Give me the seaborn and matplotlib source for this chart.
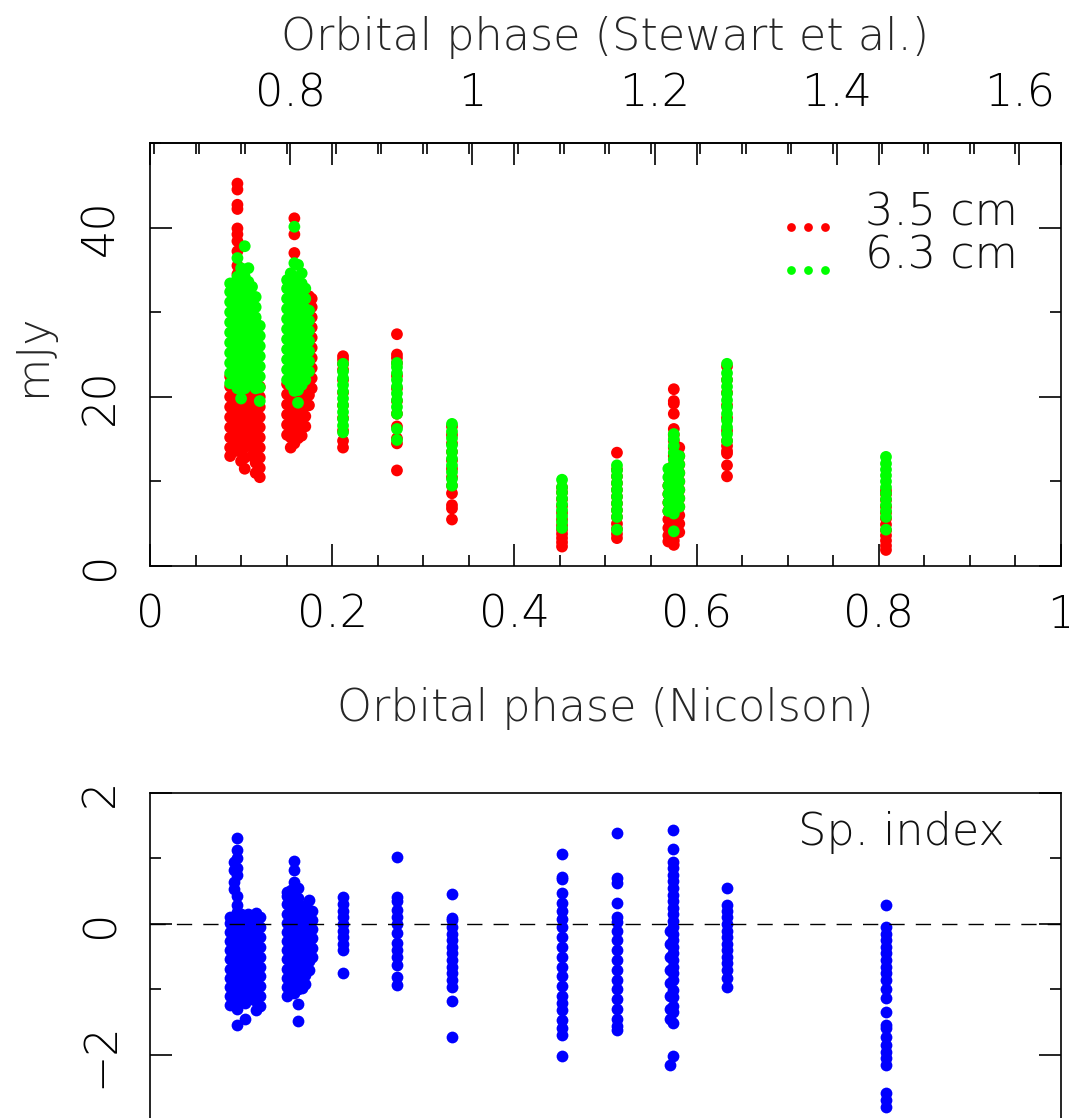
import numpy as np
import pandas as pd
import matplotlib
matplotlib.use('Agg')
import matplotlib.pyplot as plt
from matplotlib import font_manager
from matplotlib.lines import Line2D
from matplotlib.ticker import MultipleLocator, FuncFormatter
import seaborn as sns

# Stewart et al. phase = Nicolson phase + offset
phase_offset = 0.646

# observing runs (Nicolson phase), one entry per column of points
run_phase = [0.088, 0.092, 0.096, 0.100, 0.104, 0.108, 0.112, 0.116, 0.1205,
             0.1505, 0.1545, 0.1585, 0.1625, 0.1665, 0.1705, 0.1745, 0.1775,
             0.2119, 0.2711, 0.3315, 0.4523, 0.5126,
             0.569, 0.575, 0.581, 0.6334, 0.8079]

# 3.5 cm flux density (mJy) for each run
flux_35 = [
    [13.0, 14.0, 15.2, 16.4, 17.6, 18.8, 20.0, 21.2, 22.4],
    [14.2, 15.4, 16.6, 17.8, 19.0, 20.2, 21.4],
    [13.6, 14.8, 16.0, 17.2, 18.4, 19.6, 20.8, 22.0, 34.5, 35.5, 37.2, 38.4, 39.2,
     39.9, 42.2, 42.7, 44.5, 45.2],
    [12.4, 13.6, 14.8, 16.0, 17.2, 18.4, 19.6, 20.8, 22.0],
    [11.5, 12.8, 14.0, 15.2, 16.4, 17.6, 18.8, 20.0, 21.2],
    [14.4, 15.6, 16.8, 18.0, 19.2, 20.4, 21.6],
    [13.0, 14.2, 15.4, 16.6, 17.8, 19.0, 20.2, 21.4],
    [11.0, 12.2, 13.4, 14.6, 15.8, 17.0, 18.2, 19.4, 20.6],
    [10.5, 11.6, 12.8, 14.0, 15.2, 16.4, 17.6, 18.8, 20.0, 21.2],
    [15.5, 16.7, 17.9, 19.1, 20.3, 21.5],
    [14.0, 15.2, 16.4, 17.6, 18.8, 20.0, 21.2],
    [14.5, 15.7, 16.9, 18.1, 19.3, 20.5, 37.0, 39.2, 41.1],
    [15.1, 16.3, 17.5, 18.7, 19.9, 21.1],
    [15.4, 16.6, 17.8, 19.0, 20.2],
    [16.5, 17.7, 18.9, 20.1, 21.3],
    [19.0, 20.2, 21.4, 30.5, 31.9],
    [21.0, 22.2, 23.4, 24.6, 25.8, 27.0, 28.2, 29.4, 30.6, 31.6],
    [14.0, 14.8, 16.0, 17.5, 19.0, 20.5, 22.0, 23.2, 23.9, 24.4, 24.8],
    [11.3, 14.5, 15.1, 16.5, 18.0, 19.5, 21.0, 22.5, 24.0, 24.6, 25.0, 27.4],
    [5.5, 6.8, 7.2, 8.6, 9.5, 10.5, 11.5, 12.5, 13.5, 14.5, 15.5, 16.5],
    [2.3, 2.8, 3.3, 3.8, 4.3, 4.8, 5.5, 6.3, 7.1, 7.9, 8.7, 9.3],
    [3.3, 3.8, 4.4, 5.0, 5.8, 6.6, 7.4, 8.2, 9.0, 9.8, 10.6, 11.4, 13.4],
    [2.9, 3.6, 4.5, 5.5, 6.5, 7.5, 8.5, 9.5],
    [2.5, 3.0, 3.5, 4.2, 5.0, 5.8, 6.6, 7.4, 8.2, 9.0, 10.0, 11.0, 12.0, 13.0, 14.0,
     14.8, 15.5, 16.2, 18.0, 19.2, 19.5, 20.9],
    [4.0, 5.0, 6.0, 7.0, 8.0, 9.0, 10.0, 11.0, 12.0, 13.0, 14.0],
    [10.6, 11.9, 13.3, 13.6, 14.2, 14.8, 16.0, 17.5, 19.0, 20.5, 22.0, 23.6],
    [1.9, 2.4, 3.0, 3.6, 4.2, 4.9, 5.6, 6.3, 7.0, 7.8, 8.5, 8.9],
]

# 6.3 cm flux density (mJy) for each run
flux_63 = [
    [21.6, 22.8, 24.0, 25.2, 26.4, 27.6, 28.8, 30.0, 31.2, 32.4, 33.4],
    [22.2, 23.4, 24.6, 25.8, 27.0, 28.2, 29.4, 30.6, 31.8, 33.0],
    [21.0, 22.2, 23.4, 24.6, 25.8, 27.0, 28.2, 29.4, 30.6, 31.8, 33.0, 34.2, 36.4],
    [19.8, 21.6, 22.8, 24.0, 25.2, 26.4, 27.6, 28.8, 30.0, 31.2, 32.4, 33.6, 35.2],
    [21.0, 22.2, 23.4, 24.6, 25.8, 27.0, 28.2, 29.4, 30.6, 31.8, 33.0, 34.2, 37.8],
    [21.6, 22.8, 24.0, 25.2, 26.4, 27.6, 28.8, 30.0, 31.2, 32.4, 33.6, 35.2],
    [22.2, 23.4, 24.6, 25.8, 27.0, 28.2, 29.4, 30.6, 31.8, 33.0],
    [21.0, 22.2, 23.4, 24.6, 25.8, 27.0, 28.2, 29.4, 30.6, 31.8],
    [19.5, 21.1, 22.4, 23.6, 24.8, 26.0, 27.2, 28.4],
    [22.0, 23.2, 24.4, 25.6, 26.8, 28.0, 29.2, 30.4, 31.6, 32.8, 33.8],
    [21.4, 22.6, 23.8, 25.0, 26.2, 27.4, 28.6, 29.8, 31.0, 32.2, 33.4, 34.6],
    [20.7, 22.0, 23.2, 24.4, 25.6, 26.8, 28.0, 29.2, 30.4, 31.6, 32.8, 34.0, 35.8, 40.1],
    [19.3, 20.8, 22.0, 23.2, 24.4, 25.6, 26.8, 28.0, 29.2, 30.4, 31.6, 32.8, 34.0, 35.6],
    [21.4, 22.6, 23.8, 25.0, 26.2, 27.4, 28.6, 29.8, 31.0, 32.2, 33.4, 34.6],
    [22.0, 23.2, 24.4, 25.6, 26.8, 28.0, 29.2, 30.4, 31.6, 32.8],
    [23.0, 24.2, 25.4, 26.6, 27.8, 29.0, 30.2],
    [],
    [15.8, 16.6, 17.4, 18.2, 19.0, 19.8, 20.6, 21.4, 22.2, 23.0, 23.9],
    [14.9, 16.2, 18.0, 18.8, 19.6, 20.4, 21.2, 22.0, 22.8, 23.5, 24.0],
    [9.5, 10.3, 11.1, 11.9, 12.7, 13.5, 14.3, 15.1, 15.9, 16.8],
    [4.5, 5.2, 5.9, 6.6, 7.3, 8.0, 8.7, 9.3, 10.2],
    [4.3, 5.8, 6.6, 7.4, 8.2, 9.0, 9.8, 10.6, 11.3, 11.9],
    [6.5, 7.5, 8.5, 9.5, 10.5, 11.5],
    [4.1, 6.2, 7.0, 7.8, 8.6, 9.4, 10.2, 11.0, 11.8, 12.6, 13.4, 14.2, 15.0, 15.6],
    [7.0, 8.0, 9.0, 10.0, 11.0, 12.0, 13.0],
    [14.8, 15.6, 16.4, 17.2, 18.0, 18.8, 19.6, 20.4, 21.2, 22.0, 22.8, 23.9],
    [4.3, 5.8, 6.5, 7.2, 7.9, 8.6, 9.3, 10.0, 10.7, 11.4, 12.1, 12.9],
]

# spectral index, runs for the lower panel
index_phase = [0.088, 0.092, 0.096, 0.100, 0.104, 0.108, 0.112, 0.116, 0.1205,
               0.1505, 0.1545, 0.1585, 0.1625, 0.1665, 0.1705, 0.1745, 0.1775,
               0.2119, 0.2711, 0.3315, 0.4523, 0.5126,
               0.5705, 0.5745, 0.6334, 0.8079]
sp_index = [
    [-1.24, -1.1, -0.96, -0.82, -0.68, -0.54, -0.4, -0.26, -0.12, 0.02, 0.1],
    [-1.05, -0.91, -0.77, -0.63, -0.49, -0.35, -0.21, -0.07, 0.07, 0.53, 0.64, 0.82, 0.95],
    [-1.54, -1.3, -1.16, -1.02, -0.88, -0.74, -0.6, -0.46, -0.32, -0.18, -0.04, 0.1,
     0.18, 0.29, 0.42, 0.75, 0.85, 1.0, 1.13, 1.31],
    [-1.1, -0.96, -0.82, -0.68, -0.54, -0.4, -0.26, -0.12, 0.02, 0.15],
    [-1.45, -1.2, -1.06, -0.92, -0.78, -0.64, -0.5, -0.36, -0.22, -0.08, 0.06, 0.12],
    [-1.05, -0.91, -0.77, -0.63, -0.49, -0.35, -0.21, -0.07, 0.07, 0.15],
    [-1.15, -1.01, -0.87, -0.73, -0.59, -0.45, -0.31, -0.17, -0.03, 0.11],
    [-1.31, -1.17, -1.03, -0.89, -0.75, -0.61, -0.47, -0.33, -0.19, -0.05, 0.09, 0.17],
    [-1.25, -1.1, -0.95, -0.8, -0.65, -0.5, -0.35, -0.2, -0.05, 0.1],
    [-1.1, -0.96, -0.82, -0.68, -0.54, -0.4, -0.26, -0.12, 0.02, 0.16, 0.3, 0.42, 0.49],
    [-1.0, -0.86, -0.72, -0.58, -0.44, -0.3, -0.16, -0.02, 0.12, 0.26, 0.4, 0.52],
    [-1.05, -0.91, -0.77, -0.63, -0.49, -0.35, -0.21, -0.07, 0.07, 0.21, 0.35, 0.5,
     0.64, 0.82, 0.96],
    [-1.48, -1.22, -1.0, -0.86, -0.72, -0.58, -0.44, -0.3, -0.16, -0.02, 0.12, 0.26,
     0.4, 0.55],
    [-0.98, -0.84, -0.7, -0.56, -0.42, -0.28, -0.14, 0.0, 0.14, 0.28],
    [-0.92, -0.78, -0.64, -0.5, -0.36, -0.22, -0.08, 0.06, 0.2],
    [-0.7, -0.56, -0.42, -0.28, -0.14, 0.0, 0.14, 0.22, 0.37],
    [-0.5, -0.36, -0.22, -0.08, 0.06, 0.2],
    [0.41, 0.3, 0.2, 0.1, 0.0, -0.1, -0.2, -0.3, -0.4, -0.75],
    [1.03, 0.41, 0.35, 0.21, 0.1, 0.0, -0.14, -0.29, -0.4, -0.5, -0.63, -0.81, -0.93],
    [0.46, 0.09, 0.06, -0.05, -0.15, -0.25, -0.35, -0.45, -0.55, -0.65, -0.75, -0.85,
     -0.96, -1.17, -1.73],
    [1.07, 0.72, 0.68, 0.47, 0.32, 0.2, 0.08, -0.05, -0.2, -0.35, -0.5, -0.65, -0.8,
     -0.95, -1.1, -1.2, -1.31, -1.47, -1.59, -1.69, -2.02],
    [1.39, 0.7, 0.63, 0.32, 0.11, 0.03, -0.1, -0.25, -0.4, -0.55, -0.7, -0.85, -1.0,
     -1.15, -1.3, -1.45, -1.55, -1.62],
    [-0.1, -0.3, -0.5, -0.7, -0.9, -1.1, -1.3, -1.45, -2.15],
    [1.43, 1.14, 0.95, 0.85, 0.75, 0.65, 0.55, 0.45, 0.35, 0.25, 0.15, 0.05, -0.05,
     -0.15, -0.25, -0.35, -0.45, -0.55, -0.65, -0.75, -0.85, -1.01, -1.11, -1.25,
     -1.35, -1.51, -2.02],
    [0.55, 0.29, 0.2, 0.1, 0.0, -0.1, -0.2, -0.3, -0.4, -0.5, -0.6, -0.7, -0.82, -0.96],
    [0.29, -0.05, -0.15, -0.25, -0.35, -0.45, -0.55, -0.65, -0.75, -0.85, -1.0, -1.13,
     -1.34, -1.54, -1.59, -1.73, -1.85, -1.95, -2.05, -2.15, -2.58, -2.68, -2.79],
]

bands = ['3.5 cm', '6.3 cm']
band_colors = {'3.5 cm': '#ff0000', '6.3 cm': '#00ff00'}


def long_table(phases, columns, name):
    rows = [(p, v) for p, col in zip(phases, columns) for v in col]
    return pd.DataFrame(rows, columns=['phase', name])


def thin_font():
    # prefer a light cut of a wide sans family, close to the thin plot font
    for fam in ['DejaVu Sans', 'Open Sans', 'Lato', 'Roboto', 'Noto Sans']:
        for f in font_manager.fontManager.ttflist:
            w = f.weight
            if not isinstance(w, (int, float)):
                w = font_manager.weight_dict.get(str(w), 400)
            if f.name == fam and f.style == 'normal' and 150 <= w <= 320:
                return fam, int(w)
    return 'DejaVu Sans', 'normal'


flux_df = pd.concat([
    long_table(run_phase, flux_35, 'flux').assign(band='3.5 cm'),
    long_table(run_phase, flux_63, 'flux').assign(band='6.3 cm'),
], ignore_index=True)
index_df = long_table(index_phase, sp_index, 'index')

sns.set_theme(style='ticks')
font_family, font_weight = thin_font()
plt.rcParams['font.family'] = [font_family, 'DejaVu Sans']
plt.rcParams['font.weight'] = font_weight
plt.rcParams['axes.labelweight'] = font_weight
plt.rcParams['font.size'] = 32
plt.rcParams['axes.linewidth'] = 1.2
plt.rcParams['axes.edgecolor'] = 'black'
plt.rcParams['text.color'] = '#111111'
plt.rcParams['axes.unicode_minus'] = True

fs = 32
fig = plt.figure(figsize=(10.69, 11.18), dpi=100)
ax1 = fig.add_axes([0.1403, 0.4937, 0.8522, 0.3784])
ax2 = fig.add_axes([0.1403, -0.0608, 0.8522, 0.3515])

dot = 72  # marker area, pt^2

# upper panel: flux densities
sns.scatterplot(data=flux_df, x='phase', y='flux', hue='band', hue_order=bands,
                palette=band_colors, s=dot, linewidth=0, legend=False, ax=ax1)
ax1.set_ylim(0, 50)

fmt = FuncFormatter(lambda v, _: ('%g' % round(v, 3)).replace('-', '\u2212'))
for ax in (ax1, ax2):
    ax.set_xlim(0, 1)
    ax.xaxis.set_major_locator(MultipleLocator(0.2))
    ax.xaxis.set_minor_locator(MultipleLocator(0.05))
    ax.xaxis.set_major_formatter(fmt)
    ax.yaxis.set_major_formatter(fmt)
    ax.tick_params(which='both', direction='in', colors='black', width=1.2,
                   left=True, right=True, labelsize=fs)
    ax.tick_params(which='major', length=16)
    ax.tick_params(which='minor', length=8)
    ax.tick_params(axis='y', labelrotation=90, pad=20)
    ax.tick_params(axis='x', pad=20)
    for lab in ax.get_yticklabels():
        lab.set_verticalalignment('center')

ax1.yaxis.set_major_locator(MultipleLocator(20))
ax1.yaxis.set_minor_locator(MultipleLocator(10))
ax1.tick_params(axis='x', which='both', top=True, bottom=True)
ax1.set_xlabel('Orbital phase (Nicolson)', fontsize=fs, labelpad=36)
ax1.set_ylabel('mJy', fontsize=fs, labelpad=18)

# second phase scale along the top
top = ax1.secondary_xaxis('top', functions=(lambda x: x + phase_offset,
                                            lambda x: x - phase_offset))
top.xaxis.set_major_locator(MultipleLocator(0.2))
top.xaxis.set_minor_locator(MultipleLocator(0.05))
top.xaxis.set_major_formatter(fmt)
top.tick_params(which='both', direction='in', colors='black', width=1.2,
                labelsize=fs, pad=20)
top.tick_params(which='major', length=16)
top.tick_params(which='minor', length=8)
top.set_xlabel('Orbital phase (Stewart et al.)', fontsize=fs, labelpad=16)

handles = [Line2D([], [], ls='', marker='o', ms=6.3, mew=0, color=band_colors[b])
           for b in bands]
leg = ax1.legend(handles, bands, loc='upper left', bbox_to_anchor=(0.689, 0.885),
                 frameon=False, numpoints=3, handlelength=1.37, handletextpad=0.6,
                 borderpad=0, borderaxespad=0, labelspacing=0.0, fontsize=fs)
for h in leg.legend_handles:
    h.set_ydata(np.asarray(h.get_ydata()) - 12)

# lower panel: spectral index
sns.scatterplot(data=index_df, x='phase', y='index', color='#0000ff', s=dot,
                linewidth=0, ax=ax2)
ax2.axhline(0, color='black', lw=1.0, ls=(0, (11, 8)), zorder=5)
ax2.set_ylim(-4, 2)
ax2.yaxis.set_major_locator(MultipleLocator(2))
ax2.yaxis.set_minor_locator(MultipleLocator(1))
ax2.tick_params(axis='x', which='both', top=False)
ax2.set_xlabel('')
ax2.set_ylabel('')
ax2.text(0.938, 0.9, 'Sp. index', transform=ax2.transAxes, ha='right', va='center',
         fontsize=fs)

fig.savefig('out.png', dpi=100)
